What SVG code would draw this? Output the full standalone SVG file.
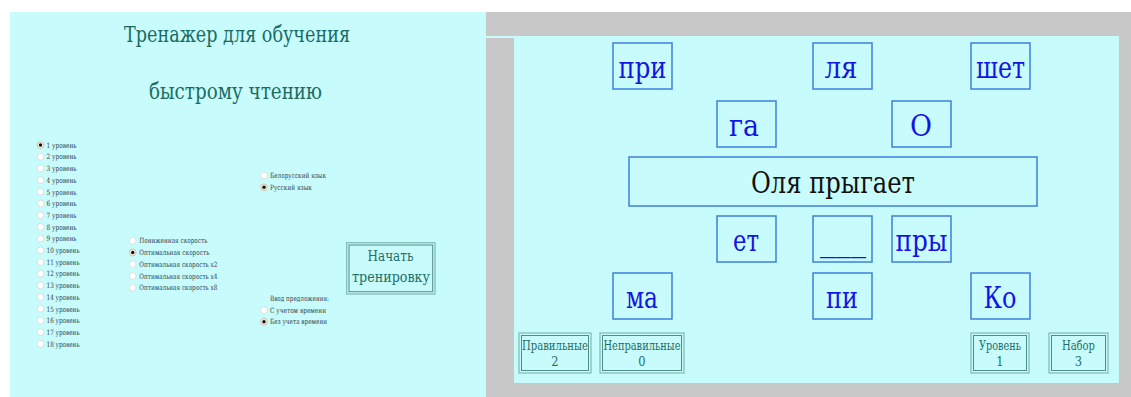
<svg xmlns="http://www.w3.org/2000/svg" width="1131" height="397" viewBox="0 0 1131 397">
<style>
text{font-family:"DejaVu Serif Condensed","DejaVu Serif",serif}
.bg{fill:#c8fbfb}
.gray{fill:#c8c8c8}
.title{font-size:22px;fill:#1b6b63;text-anchor:middle}
.small{font-size:7.3px;fill:#2e3e4e}
.rad{fill:#ffffff;stroke:#d8d8d8;stroke-width:0.8}
.radc{fill:#f4efe6;stroke:#c9b89c;stroke-width:0.8}
.dot{fill:#111}
.word rect{fill:none;stroke:#3d80e0;stroke-width:1.5}
.word text{font-size:29px;fill:#1414e6;text-anchor:middle}
.sent text{fill:#111}
.btn .o{fill:none;stroke:#7fb8b3;stroke-width:1.2}
.btn .i{fill:none;stroke:#4f8f89;stroke-width:1}
.btn text{font-size:12.7px;fill:#1f6e68;text-anchor:middle}
.start text{font-size:14.5px}
</style>
<defs>
<circle id="r" class="rad" r="3.4"/>
<g id="rc"><circle class="radc" r="3.4"/><circle class="dot" r="1.7"/></g>
</defs>
<rect x="0" y="0" width="1131" height="397" fill="#ffffff"/>

<g id="left-panel">
<rect class="bg" x="10" y="12" width="476" height="385"/>
<text class="title" x="237" y="42" textLength="226" lengthAdjust="spacingAndGlyphs">Тренажер для обучения</text>
<text class="title" x="235.5" y="99" textLength="173" lengthAdjust="spacingAndGlyphs">быстрому чтению</text>
</g>

<g id="levels">
<use href="#rc" x="40.5" y="145"/>
<use href="#r" x="40.5" y="156.7"/>
<use href="#r" x="40.5" y="168.4"/>
<use href="#r" x="40.5" y="180.1"/>
<use href="#r" x="40.5" y="191.8"/>
<use href="#r" x="40.5" y="203.5"/>
<use href="#r" x="40.5" y="215.2"/>
<use href="#r" x="40.5" y="226.9"/>
<use href="#r" x="40.5" y="238.6"/>
<use href="#r" x="40.5" y="250.3"/>
<use href="#r" x="40.5" y="262"/>
<use href="#r" x="40.5" y="273.7"/>
<use href="#r" x="40.5" y="285.4"/>
<use href="#r" x="40.5" y="297.1"/>
<use href="#r" x="40.5" y="308.8"/>
<use href="#r" x="40.5" y="320.5"/>
<use href="#r" x="40.5" y="332.2"/>
<use href="#r" x="40.5" y="343.9"/>
<text class="small" x="46.5" y="147.7" textLength="30" lengthAdjust="spacingAndGlyphs">1 уровень</text>
<text class="small" x="46.5" y="159.4" textLength="30" lengthAdjust="spacingAndGlyphs">2 уровень</text>
<text class="small" x="46.5" y="171.1" textLength="30" lengthAdjust="spacingAndGlyphs">3 уровень</text>
<text class="small" x="46.5" y="182.8" textLength="30" lengthAdjust="spacingAndGlyphs">4 уровень</text>
<text class="small" x="46.5" y="194.5" textLength="30" lengthAdjust="spacingAndGlyphs">5 уровень</text>
<text class="small" x="46.5" y="206.2" textLength="30" lengthAdjust="spacingAndGlyphs">6 уровень</text>
<text class="small" x="46.5" y="217.9" textLength="30" lengthAdjust="spacingAndGlyphs">7 уровень</text>
<text class="small" x="46.5" y="229.6" textLength="30" lengthAdjust="spacingAndGlyphs">8 уровень</text>
<text class="small" x="46.5" y="241.3" textLength="30" lengthAdjust="spacingAndGlyphs">9 уровень</text>
<text class="small" x="46.5" y="253" textLength="33" lengthAdjust="spacingAndGlyphs">10 уровень</text>
<text class="small" x="46.5" y="264.7" textLength="33" lengthAdjust="spacingAndGlyphs">11 уровень</text>
<text class="small" x="46.5" y="276.4" textLength="33" lengthAdjust="spacingAndGlyphs">12 уровень</text>
<text class="small" x="46.5" y="288.1" textLength="33" lengthAdjust="spacingAndGlyphs">13 уровень</text>
<text class="small" x="46.5" y="299.8" textLength="33" lengthAdjust="spacingAndGlyphs">14 уровень</text>
<text class="small" x="46.5" y="311.5" textLength="33" lengthAdjust="spacingAndGlyphs">15 уровень</text>
<text class="small" x="46.5" y="323.2" textLength="33" lengthAdjust="spacingAndGlyphs">16 уровень</text>
<text class="small" x="46.5" y="334.9" textLength="33" lengthAdjust="spacingAndGlyphs">17 уровень</text>
<text class="small" x="46.5" y="346.6" textLength="33" lengthAdjust="spacingAndGlyphs">18 уровень</text>
</g>

<g id="language">
<use href="#r" x="264" y="175.5"/>
<use href="#rc" x="264" y="187.3"/>
<text class="small" x="270" y="178" textLength="56" lengthAdjust="spacingAndGlyphs">Белорусский язык</text>
<text class="small" x="270" y="189.8" textLength="42" lengthAdjust="spacingAndGlyphs">Русский язык</text>
</g>

<g id="speed">
<use href="#r" x="132.7" y="240.7"/>
<use href="#rc" x="132.7" y="252.5"/>
<use href="#r" x="132.7" y="264.2"/>
<use href="#r" x="132.7" y="276"/>
<use href="#r" x="132.7" y="287.7"/>
<text class="small" x="139.3" y="243.3" textLength="68" lengthAdjust="spacingAndGlyphs">Пониженная скорость</text>
<text class="small" x="139.3" y="255.1" textLength="70" lengthAdjust="spacingAndGlyphs">Оптимальная скорость</text>
<text class="small" x="139.3" y="266.8" textLength="78" lengthAdjust="spacingAndGlyphs">Оптимальная скорость x2</text>
<text class="small" x="139.3" y="278.6" textLength="78" lengthAdjust="spacingAndGlyphs">Оптимальная скорость x4</text>
<text class="small" x="139.3" y="290.3" textLength="78" lengthAdjust="spacingAndGlyphs">Оптимальная скорость x8</text>
</g>

<g id="input-mode">
<text class="small" x="270" y="300.5" textLength="59" lengthAdjust="spacingAndGlyphs">Ввод предложения:</text>
<use href="#r" x="264" y="310.2"/>
<use href="#rc" x="264" y="321.8"/>
<text class="small" x="270" y="312.7" textLength="56" lengthAdjust="spacingAndGlyphs">С учетом времени</text>
<text class="small" x="270" y="324.3" textLength="57" lengthAdjust="spacingAndGlyphs">Без учета времени</text>
</g>

<g id="start-button" class="btn start">
<rect class="o" x="346.7" y="242.7" width="88.3" height="51.3"/>
<rect class="i" x="349" y="245" width="83.7" height="46.7"/>
<text x="390.5" y="260.5" textLength="46" lengthAdjust="spacingAndGlyphs">Начать</text>
<text x="391" y="281.5" textLength="78" lengthAdjust="spacingAndGlyphs">тренировку</text>
</g>

<g id="right-panel">
<rect class="gray" x="486" y="12" width="645" height="385"/>
<rect class="bg" x="486" y="36" width="633" height="2"/>
<rect class="bg" x="514" y="36" width="605" height="347"/>
</g>

<g id="w-pri" class="word"><rect x="613" y="43" width="59" height="46"/><text x="642.5" y="78" textLength="48" lengthAdjust="spacingAndGlyphs">при</text></g>
<g id="w-lya" class="word"><rect x="813" y="43" width="59" height="46"/><text x="841" y="78" textLength="33" lengthAdjust="spacingAndGlyphs">ля</text></g>
<g id="w-shet" class="word"><rect x="971" y="43" width="59" height="46"/><text x="1000.5" y="78" textLength="49" lengthAdjust="spacingAndGlyphs">шет</text></g>
<g id="w-ga" class="word"><rect x="717" y="101" width="59" height="46"/><text x="744" y="136" textLength="30" lengthAdjust="spacingAndGlyphs">га</text></g>
<g id="w-o" class="word"><rect x="892" y="101" width="59" height="46"/><text x="921" y="136" textLength="22" lengthAdjust="spacingAndGlyphs">О</text></g>
<g id="sentence" class="word sent"><rect x="629" y="157" width="408" height="49"/><text x="833" y="193" textLength="164" lengthAdjust="spacingAndGlyphs">Оля прыгает</text></g>
<g id="w-et" class="word"><rect x="717" y="216" width="59" height="46"/><text x="746" y="251" textLength="26" lengthAdjust="spacingAndGlyphs">ет</text></g>
<g id="w-blank" class="word"><rect x="813" y="216" width="59" height="46"/><text x="843" y="251" textLength="46" lengthAdjust="spacingAndGlyphs">___</text></g>
<g id="w-pry" class="word"><rect x="892" y="216" width="59" height="46"/><text x="921.5" y="251" textLength="52" lengthAdjust="spacingAndGlyphs">пры</text></g>
<g id="w-ma" class="word"><rect x="613" y="273" width="59" height="46"/><text x="642" y="308" textLength="32" lengthAdjust="spacingAndGlyphs">ма</text></g>
<g id="w-pi" class="word"><rect x="813" y="273" width="59" height="46"/><text x="842" y="308" textLength="32" lengthAdjust="spacingAndGlyphs">пи</text></g>
<g id="w-ko" class="word"><rect x="971" y="273" width="59" height="46"/><text x="1000" y="308" textLength="33" lengthAdjust="spacingAndGlyphs">Ко</text></g>

<g id="b-correct" class="btn">
<rect class="o" x="519" y="333" width="72" height="40"/>
<rect class="i" x="521.5" y="335.5" width="67" height="35"/>
<text x="555" y="350" textLength="66" lengthAdjust="spacingAndGlyphs">Правильные</text><text x="555" y="366">2</text>
</g>
<g id="b-wrong" class="btn">
<rect class="o" x="600" y="333" width="84" height="40"/>
<rect class="i" x="602.5" y="335.5" width="79" height="35"/>
<text x="642" y="350" textLength="77" lengthAdjust="spacingAndGlyphs">Неправильные</text><text x="642" y="366">0</text>
</g>
<g id="b-level" class="btn">
<rect class="o" x="971" y="333" width="58" height="40"/>
<rect class="i" x="973.5" y="335.5" width="53" height="35"/>
<text x="1000" y="350" textLength="42" lengthAdjust="spacingAndGlyphs">Уровень</text><text x="1000" y="366">1</text>
</g>
<g id="b-set" class="btn">
<rect class="o" x="1049" y="333" width="59" height="40"/>
<rect class="i" x="1051.5" y="335.5" width="54" height="35"/>
<text x="1078.5" y="350" textLength="33" lengthAdjust="spacingAndGlyphs">Набор</text><text x="1078.5" y="366">3</text>
</g>
<g id="connectors"/>
</svg>
